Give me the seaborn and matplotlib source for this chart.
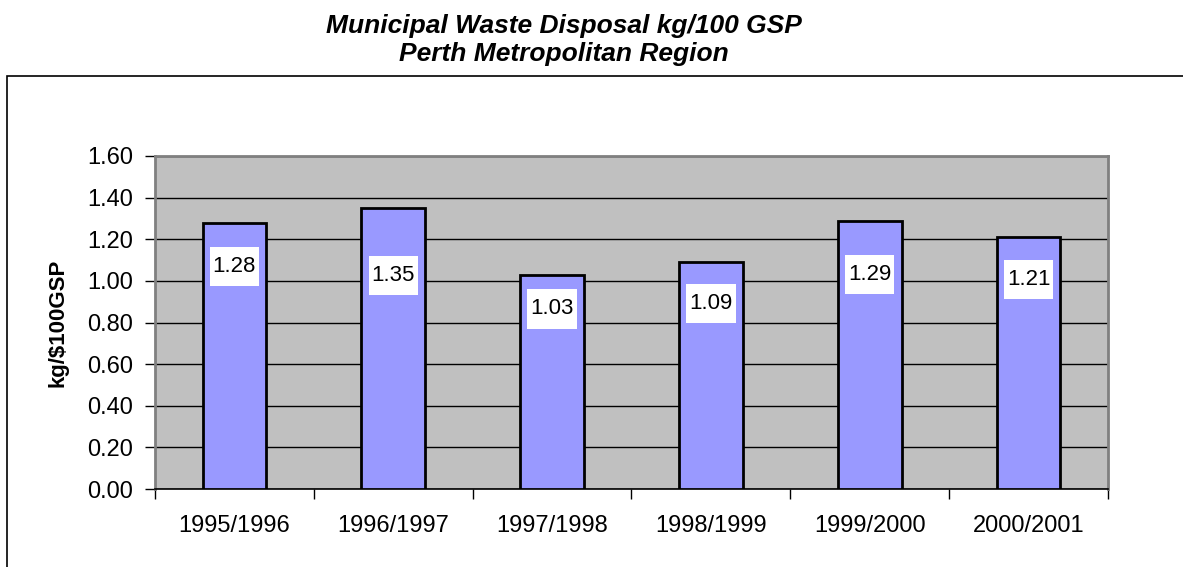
import pandas as pd
import matplotlib
matplotlib.use("Agg")
import matplotlib.pyplot as plt
from matplotlib.patches import Rectangle
import seaborn as sns

# --- data --- #
years = ["1995/1996", "1996/1997", "1997/1998", "1998/1999", "1999/2000", "2000/2001"]
kg_per_gsp = [1.28, 1.35, 1.03, 1.09, 1.29, 1.21]
# where each value label sits (its centre, in kg/$100GSP), as in the original
label_y = [1.07, 1.025, 0.865, 0.89, 1.03, 1.005]
y_ticks = [0.0, 0.2, 0.4, 0.6, 0.8, 1.0, 1.2, 1.4, 1.6]

df = pd.DataFrame({"Year": years, "kg": kg_per_gsp})

# --- style --- #
sns.set_style("white", {"axes.facecolor": "#C0C0C0"})
plt.rcParams["font.family"] = ["Liberation Sans", "DejaVu Sans"]
plt.rcParams["text.color"] = "black"
plt.rcParams["axes.labelcolor"] = "black"
plt.rcParams["xtick.color"] = "black"
plt.rcParams["ytick.color"] = "black"

fig = plt.figure(figsize=(11.83, 5.67), dpi=100)
ax = fig.add_axes([155 / 1183, 1 - 489 / 567, 953 / 1183, 333 / 567])

# outer chart-area border (runs off the right and bottom edge)
fig.patches.append(Rectangle((7 / 1183, -0.05), 1.2, 1 - 76 / 567 + 0.05,
                             transform=fig.transFigure, fill=False,
                             edgecolor="black", linewidth=1.2, clip_on=False))

sns.barplot(data=df, x="Year", y="kg", color="#9999FF", saturation=1,
            edgecolor="black", linewidth=2, width=0.4, ax=ax, zorder=3)

# value labels in white boxes
for i, (v, ly) in enumerate(zip(kg_per_gsp, label_y)):
    ax.add_patch(Rectangle((i - 0.155, ly - 0.094), 0.31, 0.188,
                           facecolor="white", edgecolor="none", zorder=4))
    ax.text(i, ly, f"{v:.2f}", ha="center", va="center", fontsize=16,
            color="black", zorder=5)

ax.set_xlim(-0.5, 5.5)
ax.set_ylim(0, 1.6)
ax.set_yticks(y_ticks)
ax.set_yticklabels([f"{t:.2f}" for t in y_ticks])
ax.yaxis.grid(True, color="black", linewidth=1)
ax.set_axisbelow(True)

# x ticks sit between the categories
ax.set_xticks(range(len(years)))
ax.set_xticklabels(years)
ax.set_xticks([i - 0.5 for i in range(len(years) + 1)], minor=True)
ax.tick_params(axis="x", which="major", length=0, labelsize=17, pad=19)
ax.tick_params(axis="x", which="minor", length=7, width=1, color="black",
               direction="out", bottom=True)
ax.tick_params(axis="y", length=7, width=1, color="black", direction="out",
               left=True, labelsize=17, pad=9)

for side in ["top", "right", "left"]:
    ax.spines[side].set_visible(True)
    ax.spines[side].set_color("#808080")
    ax.spines[side].set_linewidth(2)
ax.spines["bottom"].set_color("black")
ax.spines["bottom"].set_linewidth(1.2)

ax.set_xlabel("")
ax.set_ylabel("kg/$100GSP", fontsize=16, fontweight="bold")
ax.yaxis.set_label_coords(-0.091, 0.5)

fig.text(564 / 1183, 1 - 61 / 567,
         "Municipal Waste Disposal kg/100 GSP\nPerth Metropolitan Region",
         ha="center", va="baseline", fontsize=19, fontweight="bold",
         fontstyle="italic", linespacing=1.2)

plt.savefig("out.png", dpi=100)
